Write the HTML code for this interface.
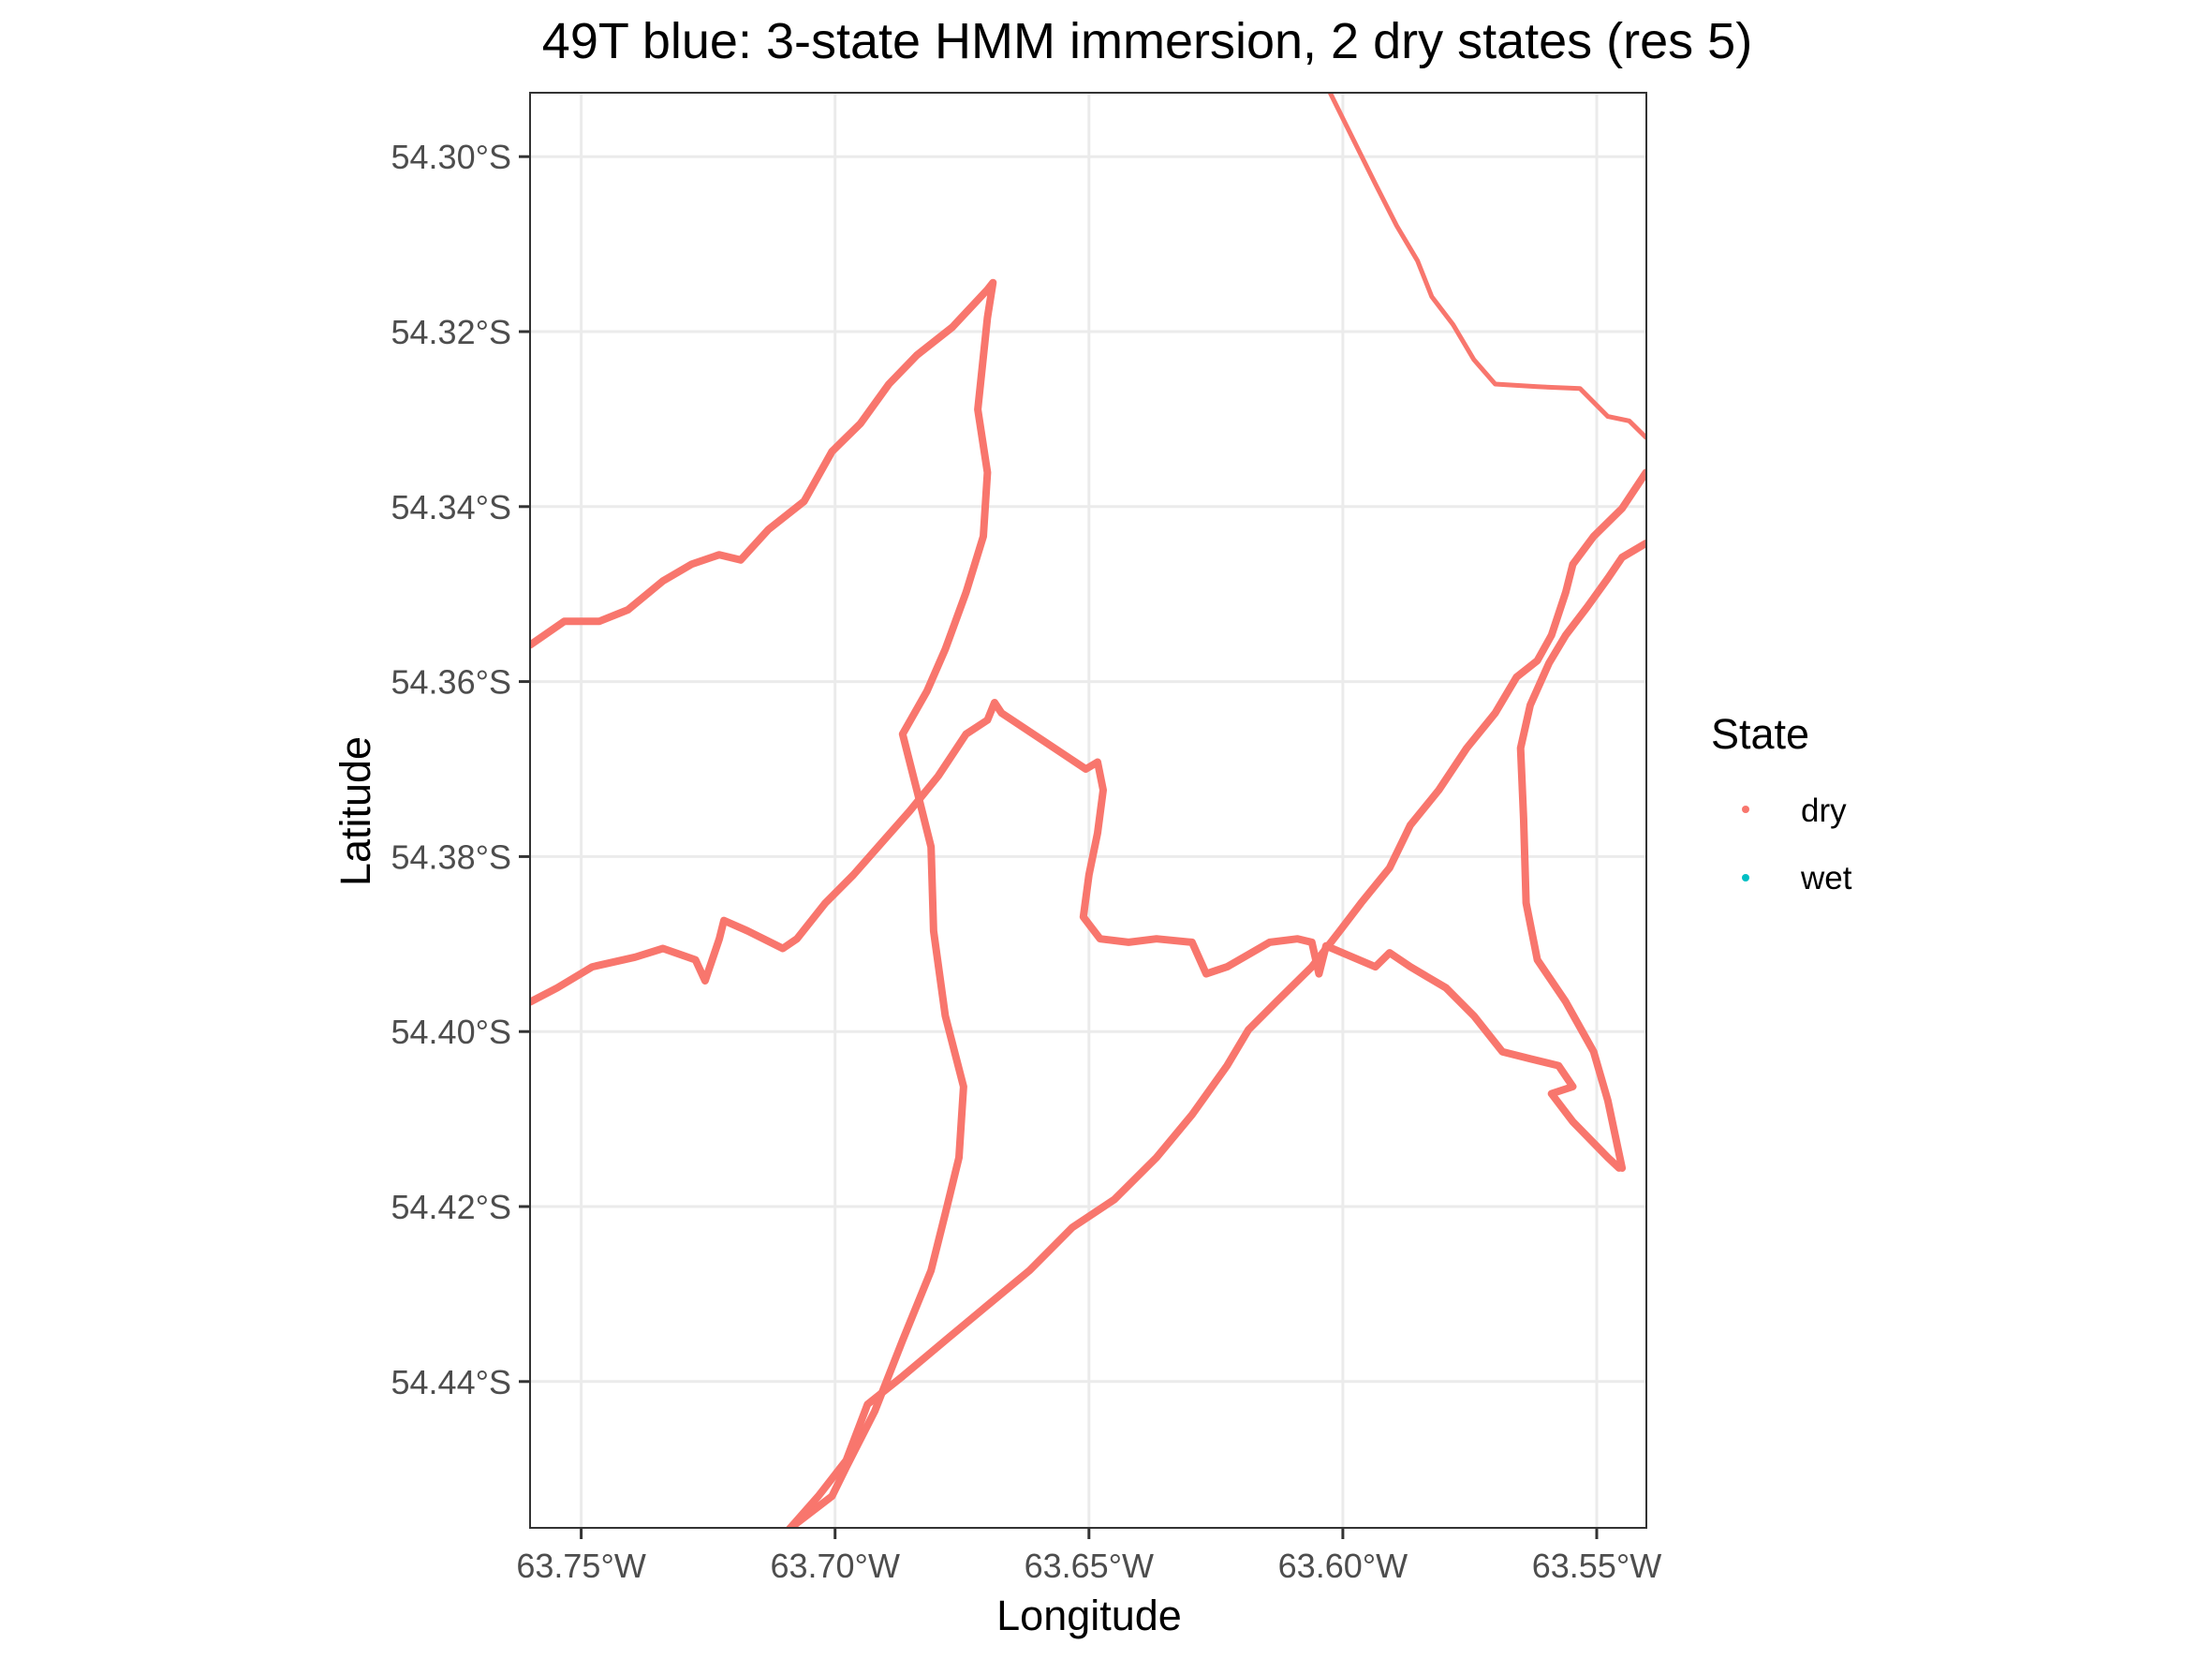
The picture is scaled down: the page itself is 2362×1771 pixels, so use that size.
<!DOCTYPE html>
<html><head><meta charset="utf-8"><style>
html,body{margin:0;padding:0;background:#fff;}
svg{display:block;font-family:"Liberation Sans",sans-serif;}
</style></head><body>
<svg id="chart" width="2362" height="1771" viewBox="0 0 2362 1771" xmlns="http://www.w3.org/2000/svg">
<text x="1225" y="62" font-size="54" text-anchor="middle" fill="#000">49T blue: 3-state HMM immersion, 2 dry states (res 5)</text>
<defs><clipPath id="pc"><rect x="566" y="99" width="1192" height="1532"/></clipPath></defs>
<rect x="566" y="99" width="1192" height="1532" fill="#fff"/>
<g id="grid"></g>
<g id="tracks" clip-path="url(#pc)"></g>
<rect x="566" y="99" width="1192" height="1532" fill="none" stroke="#333" stroke-width="2"/>
<g id="axes"></g>
<text x="1163" y="1740" font-size="45" text-anchor="middle" fill="#000">Longitude</text>
<text transform="translate(395,866) rotate(-90)" font-size="45" text-anchor="middle" fill="#000">Latitude</text>
<g>
<text x="1827" y="799" font-size="45" fill="#000">State</text>
<g><circle cx="1864" cy="864" r="4" fill="#F8766D"/><text x="1923" y="877" font-size="35" fill="#000">dry</text></g>
<g><circle cx="1864" cy="937" r="4" fill="#00BFC4"/><text x="1923" y="949" font-size="35" fill="#000">wet</text></g>
</g>
</svg>
<script>
const xTicks=[63.75,63.70,63.65,63.60,63.55];
const xTickLabels=["63.75°W","63.70°W","63.65°W","63.60°W","63.55°W"];
const yTicks=[54.30,54.32,54.34,54.36,54.38,54.40,54.42,54.44];
const yTickLabels=["54.30°S","54.32°S","54.34°S","54.36°S","54.38°S","54.40°S","54.42°S","54.44°S"];
const trackA=[[63.7600,54.3558],[63.7533,54.3531],[63.7464,54.3531],[63.7408,54.3518],[63.7339,54.3485],[63.7283,54.3466],[63.7228,54.3455],[63.7186,54.3461],[63.7131,54.3426],[63.7061,54.3394],[63.7006,54.3337],[63.6950,54.3305],[63.6894,54.3260],[63.6839,54.3227],[63.6769,54.3195],[63.6700,54.3152],[63.6689,54.3144],[63.6700,54.3184],[63.6719,54.3289],[63.6700,54.3361],[63.6708,54.3434],[63.6742,54.3498],[63.6783,54.3563],[63.6819,54.3611],[63.6867,54.3660],[63.6839,54.3724],[63.6811,54.3789],[63.6806,54.3885],[63.6783,54.3982],[63.6747,54.4063],[63.6756,54.4144],[63.6783,54.4208],[63.6811,54.4273],[63.6867,54.4353],[63.6922,54.4434],[63.6978,54.4498],[63.7006,54.4531],[63.7089,54.4568]];
const trackB=[[63.7600,54.3966],[63.7547,54.3950],[63.7478,54.3926],[63.7394,54.3915],[63.7339,54.3905],[63.7275,54.3918],[63.7256,54.3942],[63.7228,54.3894],[63.7219,54.3873],[63.7172,54.3885],[63.7103,54.3905],[63.7075,54.3894],[63.7019,54.3853],[63.6964,54.3821],[63.6908,54.3784],[63.6853,54.3748],[63.6797,54.3708],[63.6742,54.3660],[63.6700,54.3644],[63.6686,54.3624],[63.6672,54.3636],[63.6589,54.3668],[63.6506,54.3700],[63.6483,54.3692],[63.6472,54.3724],[63.6483,54.3773],[63.6500,54.3821],[63.6511,54.3869],[63.6478,54.3894],[63.6422,54.3898],[63.6367,54.3894],[63.6297,54.3898],[63.6269,54.3934],[63.6228,54.3926],[63.6144,54.3898],[63.6089,54.3894],[63.6061,54.3898],[63.6047,54.3934],[63.6033,54.3902],[63.5936,54.3926],[63.5908,54.3910],[63.5867,54.3926],[63.5797,54.3950],[63.5742,54.3982],[63.5686,54.4023],[63.5631,54.4031],[63.5575,54.4039],[63.5547,54.4063],[63.5589,54.4071],[63.5547,54.4103],[63.5478,54.4144],[63.5456,54.4156]];
const trackC=[[63.7089,54.4568],[63.7033,54.4531],[63.6978,54.4490],[63.6936,54.4426],[63.6867,54.4394],[63.6783,54.4353],[63.6700,54.4313],[63.6617,54.4273],[63.6533,54.4224],[63.6450,54.4192],[63.6367,54.4144],[63.6297,54.4095],[63.6228,54.4039],[63.6186,54.3998],[63.6131,54.3966],[63.6061,54.3926],[63.6006,54.3885],[63.5964,54.3853],[63.5908,54.3813],[63.5867,54.3764],[63.5811,54.3724],[63.5756,54.3676],[63.5700,54.3636],[63.5658,54.3595],[63.5617,54.3576],[63.5589,54.3547],[63.5561,54.3498],[63.5547,54.3466],[63.5506,54.3434],[63.5450,54.3402],[63.5403,54.3361]];
const trackD=[[63.5403,54.3442],[63.5450,54.3458],[63.5478,54.3482],[63.5519,54.3515],[63.5561,54.3547],[63.5594,54.3579],[63.5631,54.3627],[63.5650,54.3676],[63.5644,54.3756],[63.5639,54.3853],[63.5617,54.3918],[63.5561,54.3966],[63.5506,54.4023],[63.5478,54.4079],[63.5450,54.4156]];
const trackE=[[63.6025,54.2927],[63.5978,54.2982],[63.5936,54.3031],[63.5894,54.3079],[63.5853,54.3119],[63.5825,54.3160],[63.5783,54.3192],[63.5742,54.3232],[63.5700,54.3260],[63.5617,54.3263],[63.5533,54.3265],[63.5478,54.3297],[63.5436,54.3302],[63.5403,54.3321]];
const tracks=[trackA,trackB,trackC,trackD,trackE];
const trackNames=["track-a","track-b","track-c","track-d","track-e"];
const NS='http://www.w3.org/2000/svg';
function xS(lon){return 620.6+(63.75-lon)/0.05*271.1;}
function yS(lat){return 167.2+(lat-54.30)/0.02*186.8;}
const grid=document.getElementById('grid'),axes=document.getElementById('axes'),tg=document.getElementById('tracks');
function mk(tag,attrs,parent){const e=document.createElementNS(NS,tag);for(const k in attrs)e.setAttribute(k,attrs[k]);parent.appendChild(e);return e;}
xTicks.forEach((v,i)=>{const x=xS(v);
 const g=mk('line',{x1:x,x2:x,y1:99,y2:1631,stroke:'#ebebeb','stroke-width':3},grid);
 
 
 const t=mk('line',{x1:x,x2:x,y1:1631,y2:1643,stroke:'#333','stroke-width':3},axes);
 
 
 const l=mk('text',{x:x,y:1684,'font-size':36,'text-anchor':'middle',fill:'#4d4d4d'},axes);l.textContent=xTickLabels[i];
 
 
});
yTicks.forEach((v,i)=>{const y=yS(v);
 const g=mk('line',{x1:566,x2:1758,y1:y,y2:y,stroke:'#ebebeb','stroke-width':3},grid);
 
 
 const t=mk('line',{x1:554,x2:566,y1:y,y2:y,stroke:'#333','stroke-width':3},axes);
 
 
 const l=mk('text',{x:546,y:y+13,'font-size':36,'text-anchor':'end',fill:'#4d4d4d'},axes);l.textContent=yTickLabels[i];
 
 
});
tracks.forEach((tr,i)=>{
 const d=tr.map((p,j)=>(j?'L':'M')+xS(p[0]).toFixed(1)+' '+yS(p[1]).toFixed(1)).join(' ');
 const p=mk('path',{d:d,fill:'none',stroke:'#F8766D','stroke-width':i===4?5:8,'stroke-linejoin':'round','stroke-linecap':'round'},tg);
 
 
});
</script>
</body></html>
